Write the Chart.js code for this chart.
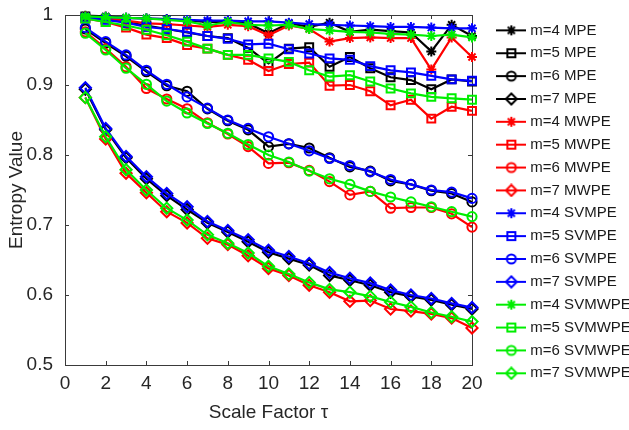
<!DOCTYPE html>
<html>
<head>
<meta charset="utf-8">
<script src="https://cdn.jsdelivr.net/npm/chart.js"></script>
<style>
  body { margin: 0; background: #fff; }
  canvas { display: block; }
</style>
</head>
<body>
<canvas id="entropyChart" width="629" height="430"></canvas>
<script>
// scale factor tau
const scaleFactors = [1, 2, 3, 4, 5, 6, 7, 8, 9, 10, 11, 12, 13, 14, 15, 16, 17, 18, 19, 20]
const xTicks = [0, 2, 4, 6, 8, 10, 12, 14, 16, 18, 20]
const yTicks = [0.5, 0.6, 0.7, 0.8, 0.9, 1]
const yTickLabels = ['0.5', '0.6', '0.7', '0.8', '0.9', '1']

// MPE
const mpe4 = [0.999, 0.998, 0.996, 0.995, 0.994, 0.992, 0.990, 0.990, 0.988, 0.974, 0.988, 0.983, 0.989, 0.976, 0.979, 0.977, 0.975, 0.948, 0.986, 0.970]
const mpe5 = [0.998, 0.994, 0.990, 0.985, 0.980, 0.975, 0.970, 0.967, 0.953, 0.931, 0.952, 0.954, 0.926, 0.940, 0.924, 0.911, 0.907, 0.894, 0.908, 0.905]
const mpe6 = [0.980, 0.960, 0.941, 0.919, 0.899, 0.891, 0.866, 0.849, 0.836, 0.812, 0.816, 0.810, 0.796, 0.783, 0.777, 0.763, 0.758, 0.749, 0.745, 0.733]
const mpe7 = [0.894, 0.836, 0.796, 0.766, 0.742, 0.722, 0.703, 0.690, 0.676, 0.661, 0.652, 0.643, 0.628, 0.621, 0.614, 0.604, 0.598, 0.593, 0.586, 0.580]
// MWPE
const mwpe4 = [0.998, 0.995, 0.992, 0.988, 0.987, 0.985, 0.983, 0.986, 0.984, 0.971, 0.985, 0.980, 0.962, 0.967, 0.968, 0.967, 0.967, 0.922, 0.968, 0.940]
const mwpe5 = [0.995, 0.990, 0.982, 0.972, 0.967, 0.957, 0.952, 0.943, 0.936, 0.920, 0.930, 0.932, 0.899, 0.900, 0.891, 0.871, 0.879, 0.852, 0.869, 0.863]
const mwpe6 = [0.976, 0.952, 0.926, 0.895, 0.880, 0.866, 0.846, 0.830, 0.812, 0.788, 0.789, 0.778, 0.762, 0.743, 0.748, 0.724, 0.725, 0.725, 0.716, 0.697]
const mwpe7 = [0.882, 0.823, 0.774, 0.746, 0.719, 0.703, 0.681, 0.672, 0.656, 0.638, 0.628, 0.614, 0.604, 0.591, 0.592, 0.580, 0.577, 0.573, 0.567, 0.553]
// SVMPE
const svmpe4 = [0.997, 0.997, 0.996, 0.995, 0.994, 0.993, 0.992, 0.992, 0.991, 0.991, 0.989, 0.987, 0.986, 0.985, 0.984, 0.983, 0.983, 0.982, 0.981, 0.981]
const svmpe5 = [0.996, 0.993, 0.989, 0.983, 0.980, 0.976, 0.970, 0.966, 0.958, 0.959, 0.951, 0.945, 0.938, 0.936, 0.927, 0.921, 0.918, 0.913, 0.908, 0.906]
const svmpe6 = [0.982, 0.962, 0.943, 0.921, 0.901, 0.883, 0.867, 0.850, 0.838, 0.826, 0.816, 0.806, 0.795, 0.785, 0.776, 0.765, 0.758, 0.750, 0.747, 0.738]
const svmpe7 = [0.896, 0.838, 0.798, 0.769, 0.745, 0.726, 0.705, 0.692, 0.679, 0.664, 0.655, 0.645, 0.632, 0.624, 0.617, 0.607, 0.600, 0.595, 0.588, 0.582]
// SVMWPE
const svmwpe4 = [0.998, 0.997, 0.996, 0.995, 0.993, 0.991, 0.985, 0.990, 0.986, 0.985, 0.986, 0.980, 0.978, 0.976, 0.975, 0.973, 0.972, 0.970, 0.972, 0.968]
const svmwpe5 = [0.995, 0.990, 0.985, 0.979, 0.971, 0.962, 0.952, 0.943, 0.943, 0.938, 0.933, 0.921, 0.912, 0.914, 0.905, 0.895, 0.888, 0.883, 0.881, 0.879]
const svmwpe6 = [0.974, 0.950, 0.924, 0.901, 0.877, 0.860, 0.845, 0.831, 0.815, 0.800, 0.790, 0.777, 0.766, 0.758, 0.748, 0.740, 0.733, 0.726, 0.719, 0.712]
const svmwpe7 = [0.882, 0.826, 0.779, 0.750, 0.724, 0.707, 0.686, 0.674, 0.660, 0.641, 0.630, 0.618, 0.608, 0.604, 0.598, 0.590, 0.583, 0.575, 0.569, 0.562]

const methods = [
    {name: 'MPE', color: '#000000', series: [mpe4, mpe5, mpe6, mpe7]},
    {name: 'MWPE', color: '#ff0000', series: [mwpe4, mwpe5, mwpe6, mwpe7]},
    {name: 'SVMPE', color: '#0000ff', series: [svmpe4, svmpe5, svmpe6, svmpe7]},
    {name: 'SVMWPE', color: '#00ee00', series: [svmwpe4, svmwpe5, svmwpe6, svmwpe7]},
]
const orders = [4, 5, 6, 7]
const markers = ['star', 'rect', 'circle', 'rectRot']
const radii = [5, 5.6, 4.6, 5.6]

// little line+marker picture for the legend, like matlab does
function legendIcon(color, marker) {
    const c = document.createElement('canvas')
    c.width = 30
    c.height = 14
    const g = c.getContext('2d')
    g.strokeStyle = color
    g.lineWidth = 2
    g.beginPath()
    g.moveTo(0, 7)
    g.lineTo(30, 7)
    if (marker === 'star') {
        for (let k = 0; k < 4; k++) {
            const a = k * Math.PI / 4
            g.moveTo(15 - 5 * Math.cos(a), 7 - 5 * Math.sin(a))
            g.lineTo(15 + 5 * Math.cos(a), 7 + 5 * Math.sin(a))
        }
    } else if (marker === 'rect') {
        g.rect(11, 3, 8, 8)
    } else if (marker === 'circle') {
        g.moveTo(19.5, 7)
        g.arc(15, 7, 4.5, 0, Math.PI * 2)
    } else {
        g.moveTo(15, 1.5)
        g.lineTo(20.5, 7)
        g.lineTo(15, 12.5)
        g.lineTo(9.5, 7)
        g.closePath()
    }
    g.stroke()
    return c
}

const datasets = []
const icons = []
methods.forEach(m => {
    m.series.forEach((values, j) => {
        datasets.push({
            label: 'm=' + orders[j] + ' ' + m.name,
            data: scaleFactors.map((x, i) => ({x: x, y: values[i]})),
            borderColor: m.color,
            backgroundColor: 'transparent',
            pointBorderColor: m.color,
            pointBackgroundColor: 'transparent',
            borderWidth: 2.2,
            pointBorderWidth: 2,
            pointStyle: markers[j],
            pointRadius: radii[j],
            tension: 0,
            clip: false,
        })
        icons.push(legendIcon(m.color, markers[j]))
    })
})
// later series on top, like matlab
datasets.forEach((d, i) => { d.order = datasets.length - i })

const axisBox = {
    id: 'axisBox',
    beforeDatasetsDraw(chart) {
        const {ctx, chartArea: a, scales} = chart
        ctx.save()
        ctx.strokeStyle = '#3a3a3a'
        ctx.lineWidth = 1
        ctx.strokeRect(a.left + 0.5, a.top + 0.5, a.right - a.left, a.bottom - a.top)
        ctx.beginPath()
        scales.x.ticks.forEach(t => {
            const px = Math.round(scales.x.getPixelForValue(t.value)) + 0.5
            ctx.moveTo(px, a.bottom)
            ctx.lineTo(px, a.bottom - 4)
            ctx.moveTo(px, a.top)
            ctx.lineTo(px, a.top + 4)
        })
        scales.y.ticks.forEach(t => {
            const py = Math.round(scales.y.getPixelForValue(t.value)) + 0.5
            ctx.moveTo(a.left, py)
            ctx.lineTo(a.left + 4, py)
            ctx.moveTo(a.right, py)
            ctx.lineTo(a.right - 4, py)
        })
        ctx.stroke()
        ctx.restore()
    }
}

const font = 'Liberation Sans, Arial, sans-serif'

new Chart(document.getElementById('entropyChart'), {
    type: 'line',
    data: {datasets: datasets},
    options: {
        responsive: false,
        animation: false,
        events: [],
        layout: {padding: {top: 15, left: 0, right: 0, bottom: 0}},
        scales: {
            x: {
                type: 'linear',
                min: 0,
                max: 20,
                afterBuildTicks: s => { s.ticks = xTicks.map(v => ({value: v})) },
                afterFit: s => { s.height = 65; s.paddingLeft = 0; s.paddingRight = 0 },
                grid: {display: false, drawTicks: false},
                border: {display: false},
                ticks: {
                    color: '#262626',
                    font: {family: font, size: 19},
                    padding: 7,
                    maxRotation: 0,
                },
                title: {
                    display: true,
                    text: 'Scale Factor τ',
                    color: '#262626',
                    font: {family: font, size: 19},
                    padding: {top: 0, bottom: 6},
                },
            },
            y: {
                type: 'linear',
                min: 0.5,
                max: 1,
                afterBuildTicks: s => { s.ticks = yTicks.map(v => ({value: v})) },
                afterFit: s => { s.width = 65; s.paddingTop = 0; s.paddingBottom = 0 },
                grid: {display: false, drawTicks: false},
                border: {display: false},
                ticks: {
                    color: '#262626',
                    font: {family: font, size: 19},
                    padding: 12,
                    callback: v => yTickLabels[yTicks.indexOf(v)],
                },
                title: {
                    display: true,
                    text: 'Entropy Value',
                    color: '#262626',
                    font: {family: font, size: 19},
                    padding: {top: 5, bottom: 0},
                },
            },
            // empty right axis, only makes the gap before the legend
            gap: {
                type: 'linear',
                position: 'right',
                min: 0.5,
                max: 1,
                afterFit: s => { s.width = 20; s.paddingTop = 0; s.paddingBottom = 0 },
                grid: {display: false, drawTicks: false},
                border: {display: false},
                ticks: {display: false},
            },
        },
        plugins: {
            tooltip: {enabled: false},
            legend: {
                position: 'right',
                align: 'start',
                maxWidth: 137,
                labels: {
                    usePointStyle: true,
                    pointStyleWidth: 23,
                    boxHeight: 15,
                    padding: 7.86,
                    color: '#1a1a1a',
                    font: {family: font, size: 15},
                    sort: (a, b) => a.datasetIndex - b.datasetIndex,
                    generateLabels: chart => {
                        const items = Chart.defaults.plugins.legend.labels.generateLabels(chart)
                        items.forEach(it => { it.pointStyle = icons[it.datasetIndex] })
                        return items
                    },
                },
            },
        },
    },
    plugins: [axisBox],
})
</script>
</body>
</html>
